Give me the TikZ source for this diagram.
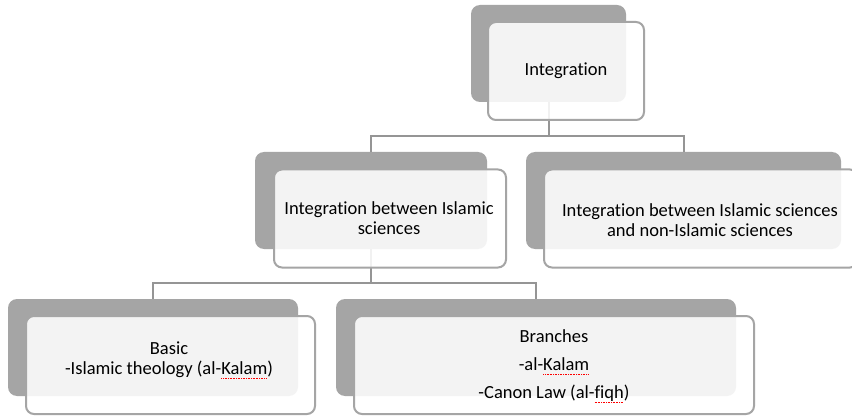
\documentclass[tikz,border=0pt]{standalone}
\usepackage{fontspec}
\setmainfont{Carlito}[RawFeature=-liga]
\newsavebox\spellbox
\newcommand\spellmark[1]{\sbox\spellbox{#1}\leavevmode\rlap{\raisebox{-0.45ex}{\color{red}\hbox to \wd\spellbox{\xleaders\hbox to 1.6pt{\rule{0.9pt}{0.6pt}\hss}\hfill}}}\usebox\spellbox}
\definecolor{backgray}{HTML}{A5A5A5}
\definecolor{edgegray}{HTML}{A5A5A5}
\definecolor{linkgray}{HTML}{959595}
\begin{document}
\begin{tikzpicture}[x=1pt,y=-1pt,
  backbox/.style={fill=backgray, draw=none, rounded corners=9pt, minimum width=#1, minimum height=97pt, inner sep=0pt},
  frontbox/.style={draw=edgegray, line width=2pt, fill=white, fill opacity=0.87, rounded corners=8pt, minimum width=#1, minimum height=98pt, inner sep=0pt},
  label/.style={text=black, align=center, inner sep=0pt, font=\fontsize{18.5}{19.5}\selectfont},
  link/.style={draw=linkgray, line width=2pt}]
\clip (0,0) rectangle (852,417);
\fill[white] (0,0) rectangle (852,417);
% back boxes
\node[backbox=155pt] (t) at (548.5,53.5) {};
\node[backbox=232pt] (a) at (371,200.5) {};
\node[backbox=315pt] (b) at (683.5,200.5) {};
\node[backbox=290pt] (c) at (153,347.5) {};
\node[backbox=400pt] (d) at (536,347.5) {};
% connectors
\draw[link] (t.south) -- ++(0,34) -| (a.north);
\draw[link] (t.south) -- ++(0,34) -| (b.north);
\draw[link] (a.south) -- ++(0,34) -| (c.north);
\draw[link] (a.south) -- ++(0,34) -| (d.north);
% front boxes
\node[frontbox=156pt] (tf) at (566,71) {};
\node[frontbox=232pt] (af) at (390,218.5) {};
\node[frontbox=314pt] (bf) at (701,218.5) {};
\node[frontbox=289pt] (cf) at (170.5,365) {};
\node[frontbox=400pt] (df) at (554,365) {};
% texts
\node[label] (tt) at (566,71) {Integration};
\node[label] (at) at (389,218) {Integration between Islamic\\sciences};
\node[label] (bt) at (700,220) {Integration between Islamic sciences\\and non-Islamic sciences};
\node[label] (ct) at (169,360) {Basic\\-Islamic theology (al-\spellmark{Kalam})};
\node[label, font=\fontsize{18.5}{28}\selectfont] (dt) at (554,366) {Branches\\-al-\spellmark{Kalam}\\-Canon Law (al-\spellmark{fiqh})};
\end{tikzpicture}
\end{document}
